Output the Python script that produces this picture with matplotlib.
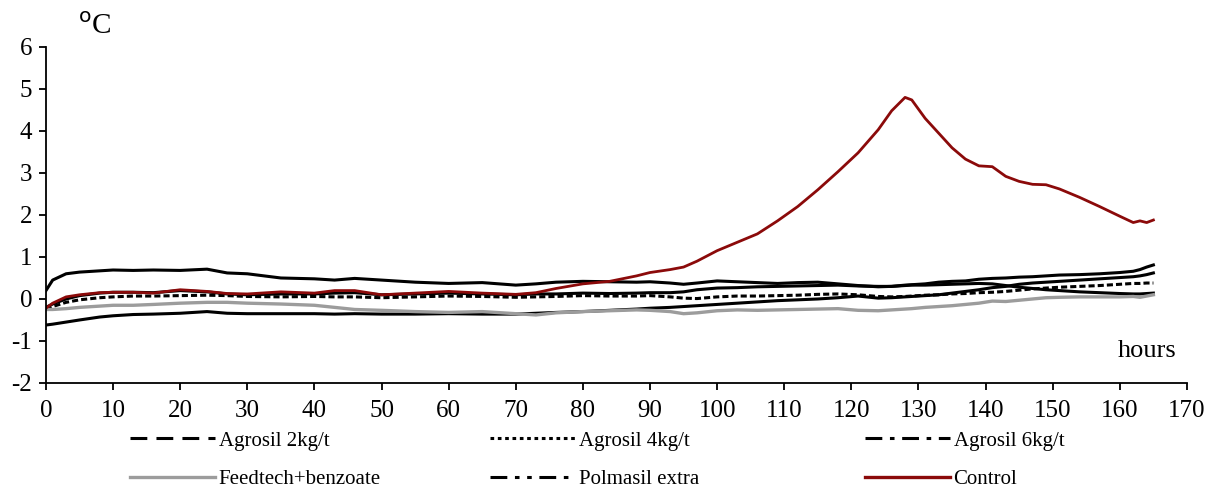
import numpy as np
import matplotlib
matplotlib.use("Agg")
from matplotlib import pyplot as plt
from matplotlib.lines import Line2D

plt.rcParams["font.family"] = "Liberation Serif"
plt.rcParams["font.size"] = 16
plt.rcParams["axes.unicode_minus"] = False

# hours of the readings
hours = [0, 1, 3, 5, 8, 10, 13, 16, 20, 24, 27, 30, 35, 40, 43, 46, 50, 55, 60, 65,
         70, 73, 76, 80, 84, 88, 90, 93, 95, 97, 100, 103, 106, 109, 112, 115, 118, 121, 124, 126,
         128, 129, 131, 133, 135, 137, 139, 141, 143, 145, 147, 149, 151, 154, 157, 160, 162, 163, 164, 165]

agrosil2 = [-0.2, -0.12, 0.0, 0.08, 0.14, 0.16, 0.16, 0.15, 0.2, 0.17, 0.12, 0.1, 0.12, 0.12, 0.14, 0.15, 0.1, 0.12, 0.14, 0.12,
            0.1, 0.12, 0.12, 0.14, 0.13, 0.14, 0.15, 0.15, 0.17, 0.22, 0.26, 0.27, 0.29, 0.3, 0.31, 0.32, 0.33, 0.31, 0.3, 0.3,
            0.32, 0.33, 0.33, 0.34, 0.35, 0.36, 0.37, 0.36, 0.32, 0.28, 0.25, 0.22, 0.2, 0.17, 0.15, 0.13, 0.12, 0.12, 0.13, 0.14]

agrosil4 = [-0.25, -0.18, -0.08, -0.02, 0.03, 0.05, 0.07, 0.07, 0.08, 0.09, 0.08, 0.06, 0.05, 0.06, 0.05, 0.05, 0.03, 0.05, 0.07, 0.06,
            0.04, 0.05, 0.06, 0.08, 0.07, 0.07, 0.08, 0.05, 0.02, 0.01, 0.05, 0.07, 0.07, 0.08, 0.09, 0.11, 0.12, 0.1, 0.06, 0.05,
            0.06, 0.07, 0.09, 0.1, 0.12, 0.13, 0.15, 0.16, 0.18, 0.21, 0.24, 0.26, 0.28, 0.3, 0.32, 0.35, 0.37, 0.37, 0.38, 0.38]

agrosil6 = [0.2, 0.45, 0.6, 0.64, 0.67, 0.69, 0.68, 0.69, 0.68, 0.71, 0.62, 0.6, 0.5, 0.48, 0.45, 0.49, 0.45, 0.4, 0.37, 0.39,
            0.33, 0.36, 0.4, 0.42, 0.41, 0.4, 0.41, 0.38, 0.35, 0.38, 0.43, 0.41, 0.39, 0.37, 0.39, 0.4, 0.36, 0.32, 0.29, 0.3,
            0.33, 0.34, 0.36, 0.4, 0.42, 0.43, 0.47, 0.49, 0.5, 0.52, 0.53, 0.55, 0.57, 0.58, 0.6, 0.63, 0.66, 0.7, 0.76, 0.81]

feedtech = [-0.25, -0.25, -0.23, -0.2, -0.17, -0.15, -0.15, -0.13, -0.1, -0.08, -0.08, -0.1, -0.12, -0.15, -0.2, -0.25, -0.27, -0.3, -0.32, -0.3,
            -0.35, -0.38, -0.33, -0.3, -0.28, -0.26, -0.27, -0.3, -0.35, -0.33, -0.28, -0.26, -0.27, -0.26, -0.25, -0.24, -0.23, -0.27, -0.28, -0.26,
            -0.24, -0.23, -0.2, -0.18, -0.16, -0.13, -0.1, -0.05, -0.06, -0.03, 0.0, 0.03, 0.04, 0.05, 0.05, 0.05, 0.06, 0.04, 0.07, 0.1]

polmasil = [-0.62, -0.6, -0.55, -0.5, -0.43, -0.4, -0.37, -0.36, -0.34, -0.3, -0.34, -0.35, -0.35, -0.35, -0.36, -0.35, -0.36, -0.36, -0.35, -0.36,
            -0.36, -0.34, -0.32, -0.3, -0.27, -0.24, -0.22, -0.2, -0.18, -0.16, -0.13, -0.1, -0.07, -0.04, -0.02, 0.0, 0.03, 0.07, 0.02, 0.03,
            0.05, 0.06, 0.08, 0.1, 0.14, 0.18, 0.22, 0.27, 0.3, 0.35, 0.38, 0.4, 0.42, 0.45, 0.48, 0.51, 0.53, 0.55, 0.58, 0.62]

control = [-0.22, -0.1, 0.05, 0.1, 0.15, 0.16, 0.16, 0.14, 0.22, 0.18, 0.13, 0.12, 0.17, 0.14, 0.2, 0.2, 0.1, 0.14, 0.18, 0.14,
           0.11, 0.15, 0.25, 0.36, 0.42, 0.55, 0.63, 0.7, 0.76, 0.9, 1.15, 1.35, 1.55, 1.86, 2.2, 2.6, 3.03, 3.48, 4.03, 4.48,
           4.8, 4.74, 4.3, 3.95, 3.6, 3.33, 3.17, 3.15, 2.92, 2.8, 2.73, 2.72, 2.62, 2.42, 2.2, 1.97, 1.82, 1.86, 1.82, 1.88]

xticks = list(range(0, 171, 10))
yticks = list(range(-2, 7))

fig = plt.figure(figsize=(12.06, 4.87), dpi=100)
ax = fig.add_axes([0.0381, 0.2136, 0.9461, 0.6899])

# dense excel data makes the dashed series look solid in the plot area
ax.plot(hours, agrosil6, color="black", lw=2.2, solid_joinstyle="round")
ax.plot(hours, polmasil, color="black", lw=2.2, solid_joinstyle="round")
ax.plot(hours, agrosil2, color="black", lw=2.2, solid_joinstyle="round")
ax.plot(hours, agrosil4, color="black", lw=2.2, dashes=(2.0, 1.0))
ax.plot(hours, feedtech, color="#9c9c9c", lw=2.4, solid_joinstyle="round")
ax.plot(hours, control, color="#8b0a0a", lw=2.0, solid_joinstyle="round")

ax.set_xlim(0, 170)
ax.set_ylim(-2, 6)
ax.set_xticks(xticks)
ax.set_yticks(yticks)
for s in ["top", "right"]:
    ax.spines[s].set_visible(False)
for s in ["left", "bottom"]:
    ax.spines[s].set_linewidth(1.3)
ax.tick_params(axis="x", direction="out", length=5, width=1.3, pad=7, labelsize=18)
ax.tick_params(axis="y", direction="out", length=5, width=1.3, pad=5, labelsize=18)

ax.text(164, -1.25, "hours", ha="center", va="center", fontsize=19)
fig.text(78 / 1206, 1 - 27 / 487, r"$^{\mathrm{o}}$C", fontsize=21, ha="left", va="center")

h_a2 = Line2D([], [], color="black", lw=2.2, dashes=(5.5, 3))
h_a4 = Line2D([], [], color="black", lw=2.2, dashes=(1.2, 1.2))
h_a6 = Line2D([], [], color="black", lw=2.2, dashes=(5.5, 2.5, 1.5, 2.5))
h_fb = Line2D([], [], color="#9c9c9c", lw=2.4)
h_pm = Line2D([], [], color="black", lw=2.2, dashes=(5.5, 2.5, 1.5, 2.5, 1.5, 2.5))
h_ct = Line2D([], [], color="#8b0a0a", lw=2.4)

cols = [((h_a2, h_fb), ("Agrosil 2kg/t", "Feedtech+benzoate"), 130),
        ((h_a4, h_pm), ("Agrosil 4kg/t", "Polmasil extra"), 490),
        ((h_a6, h_ct), ("Agrosil 6kg/t", "Control"), 865)]
for hs, ls, px in cols:
    leg = fig.legend(hs, ls, loc="upper left", bbox_to_anchor=(px / 1206, 1 - 431 / 487),
                     frameon=False, handlelength=4.1, handletextpad=0.15,
                     labelspacing=0.9, borderaxespad=0, borderpad=0, fontsize=15)

fig.savefig("out.png", dpi=100)
